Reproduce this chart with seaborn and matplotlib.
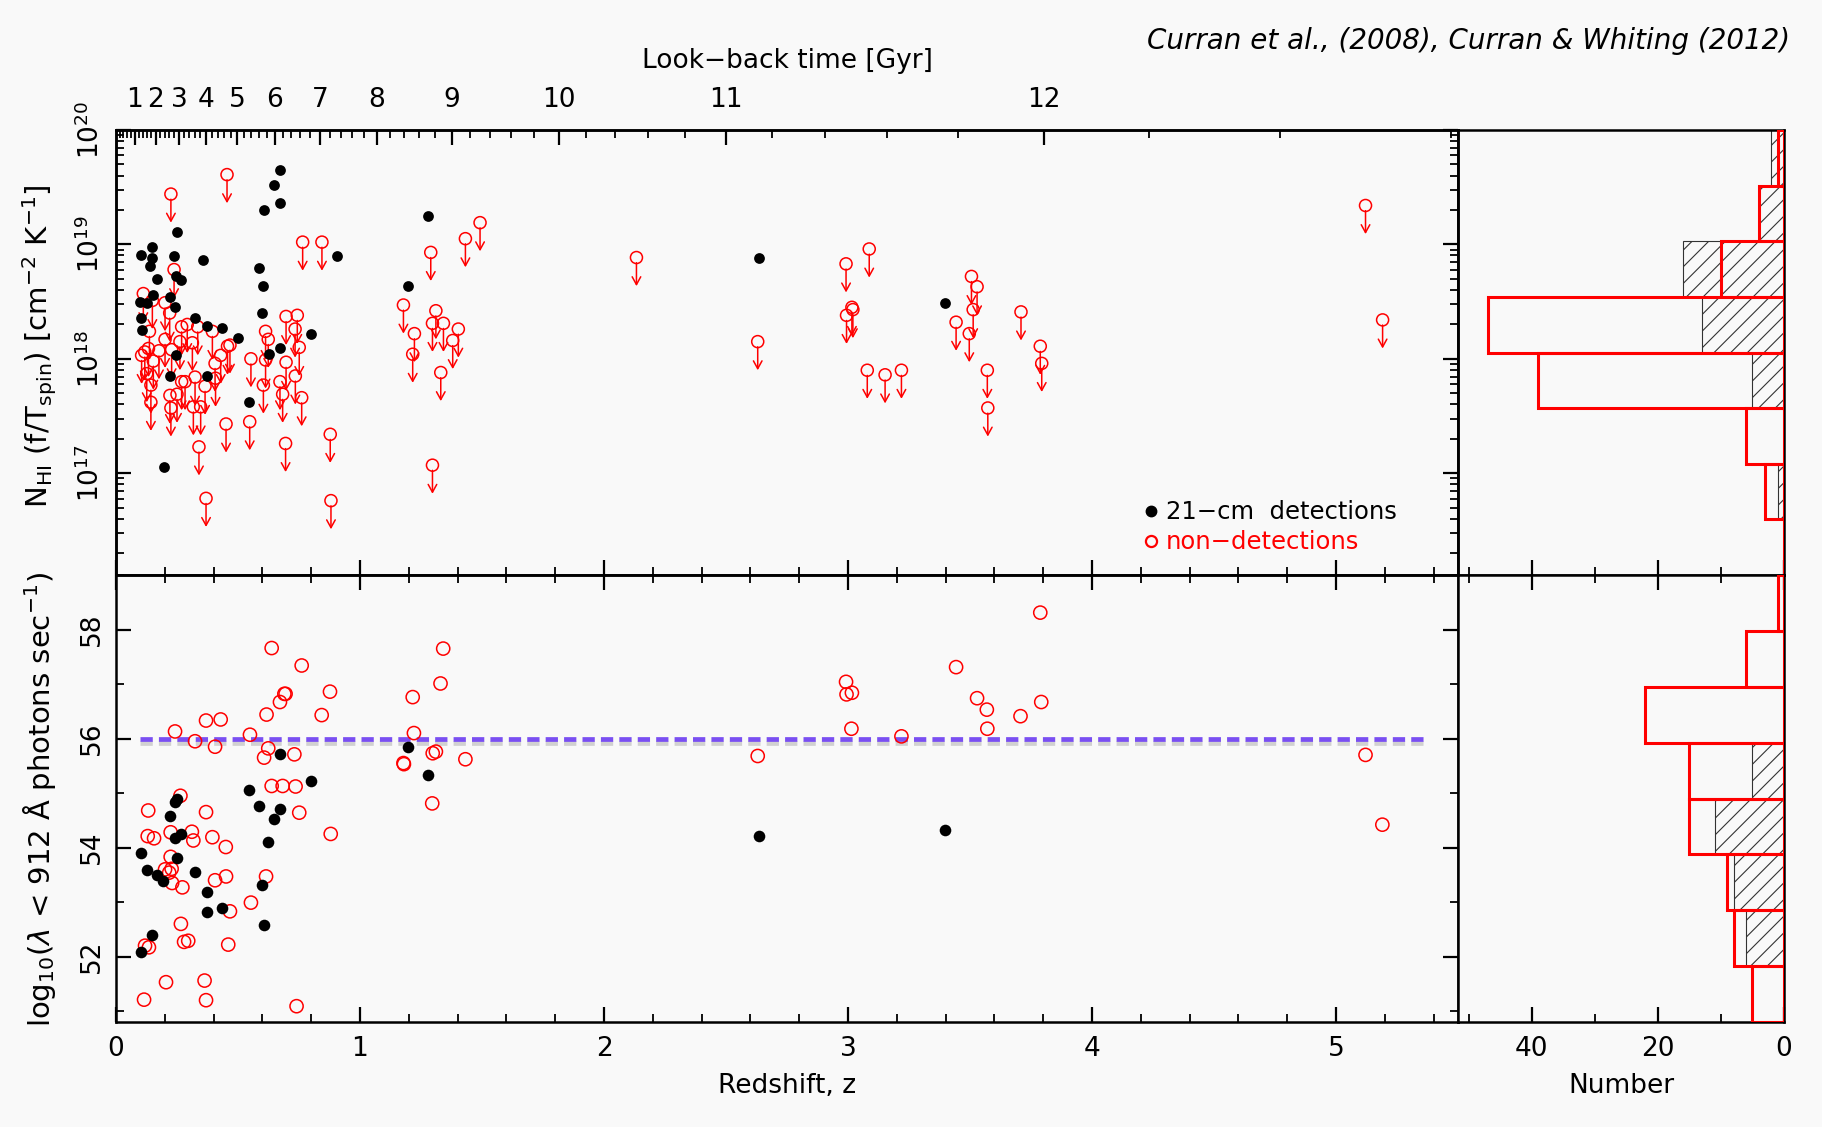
import numpy as np
import pandas as pd
import matplotlib
matplotlib.use("Agg")
import matplotlib.pyplot as plt
import matplotlib.ticker as mticker
import matplotlib.patheffects as pe
from matplotlib.lines import Line2D
import seaborn as sns

# ---------------- data ----------------
# Upper panel: 21-cm detections, redshift and log10 N_HI (f/Tspin)
det_top_z = [0.102, 0.149, 0.149, 0.139, 0.167, 0.153, 0.100, 0.126, 0.104, 0.108,
             0.250, 0.238, 0.246, 0.266, 0.221, 0.240, 0.246, 0.221, 0.197, 0.358,
             0.324, 0.373, 0.434, 0.372, 0.500, 0.546, 0.587, 0.602, 0.600, 0.608,
             0.648, 0.673, 0.671, 0.627, 0.672, 0.799, 0.907, 1.195, 1.279, 2.636, 3.397]
det_top_logN = [18.91, 18.98, 18.885, 18.81, 18.70, 18.56, 18.50, 18.49, 18.36, 18.25,
                19.11, 18.90, 18.72, 18.69, 18.54, 18.45, 18.03, 17.85, 17.05, 18.86,
                18.36, 18.29, 18.27, 17.85, 18.18, 17.62, 18.79, 18.64, 18.40, 19.30,
                19.52, 19.65, 19.36, 18.04, 18.09, 18.22, 18.90, 18.64, 19.25, 18.885, 18.49]

# Upper panel: non-detections (upper limits)
lim_top_z = [0.225, 0.455, 0.112, 0.201, 0.238, 0.149, 0.220, 0.137, 0.765, 0.844,
             1.432, 1.492, 1.290, 1.178, 1.223, 1.216, 1.311, 1.297, 1.342, 1.403,
             1.380, 1.331, 1.297, 0.697, 0.743, 0.734, 0.751, 0.697, 0.735, 0.761,
             0.683, 0.672, 0.613, 0.624, 0.613, 0.604, 0.553, 0.548, 0.695, 0.878,
             0.881, 0.451, 0.340, 0.369, 0.467, 0.457, 0.429, 0.406, 0.395, 0.335,
             0.292, 0.269, 0.313, 0.262, 0.228, 0.201, 0.176, 0.133, 0.105, 0.118,
             0.153, 0.126, 0.143, 0.143, 0.221, 0.225, 0.250, 0.269, 0.283, 0.324,
             0.317, 0.347, 0.365, 0.408,
             2.133, 2.630, 2.992, 3.087, 2.994, 3.016, 3.020, 3.079, 3.152, 3.219,
             3.506, 3.529, 3.513, 3.443, 3.497, 3.709, 3.788, 3.794, 3.571, 3.573,
             5.121, 5.191]
lim_top_logN = [19.44, 19.61, 18.57, 18.49, 18.78, 18.51, 18.40, 18.24, 19.02, 19.02,
                19.05, 19.19, 18.93, 18.47, 18.22, 18.04, 18.42, 18.31, 18.31, 18.26,
                18.16, 17.88, 17.07, 18.37, 18.38, 18.26, 18.10, 17.97, 17.85, 17.66,
                17.69, 17.80, 18.24, 18.17, 17.99, 17.77, 18.00, 17.45, 17.26, 17.34,
                16.76, 17.43, 17.23, 16.78, 18.12, 18.11, 18.03, 17.96, 18.24, 18.28,
                18.30, 18.28, 18.14, 18.15, 18.08, 18.17, 18.07, 18.09, 18.03, 18.06,
                17.98, 17.87, 17.77, 17.62, 17.68, 17.57, 17.69, 17.80, 17.80, 17.84,
                17.58, 17.58, 17.76, 17.83,
                18.885, 18.15, 18.83, 18.96, 18.38, 18.45, 18.43, 17.90, 17.86, 17.90,
                18.72, 18.63, 18.43, 18.32, 18.22, 18.41, 18.11, 17.96, 17.90, 17.57,
                19.34, 18.34]

# Lower panel: ionising photon rate log10(Q)
det_bot_z = [0.102, 0.126, 0.167, 0.194, 0.149, 0.104, 0.221, 0.242, 0.249, 0.266,
             0.242, 0.249, 0.324, 0.372, 0.372, 0.434, 0.546, 0.587, 0.673, 0.648,
             0.624, 0.600, 0.608, 0.672, 0.799, 1.195, 1.279, 2.636, 3.397]
det_bot_Q = [53.90, 53.58, 53.49, 53.39, 52.39, 52.08, 54.57, 54.83, 54.90, 54.25,
             54.17, 53.81, 53.56, 53.19, 52.81, 52.90, 55.05, 54.77, 54.71, 54.53,
             54.10, 53.32, 52.58, 55.72, 55.22, 55.85, 55.33, 54.21, 54.33]

non_bot_z = [0.638, 0.761, 0.695, 0.690, 0.672, 0.877, 0.617, 0.843, 0.369, 0.429,
             0.242, 0.549, 0.324, 0.406, 0.624, 0.607, 0.731, 0.638, 0.683, 0.736,
             0.264, 0.132, 0.369, 0.751, 0.880, 0.130, 0.156, 0.224, 0.311, 0.317,
             0.395, 0.450, 0.224, 0.201, 0.228, 0.218, 0.230, 0.272, 0.406, 0.451,
             0.615, 0.266, 0.467, 0.553, 0.279, 0.296, 0.460, 0.119, 0.135, 0.205,
             0.363, 0.115, 0.369, 0.740, 1.216, 1.341, 1.330, 1.221, 1.298, 1.311,
             1.178, 1.180, 1.432, 1.296,
             2.630, 2.992, 2.994, 3.016, 3.014, 3.219, 3.443, 3.529, 3.569, 3.571,
             3.707, 3.792, 3.788, 5.121, 5.190]
non_bot_Q = [57.66, 57.34, 56.82, 56.82, 56.67, 56.86, 56.44, 56.43, 56.33, 56.35,
             56.13, 56.07, 55.95, 55.85, 55.82, 55.65, 55.71, 55.13, 55.13, 55.12,
             54.95, 54.68, 54.65, 54.64, 54.25, 54.21, 54.17, 54.28, 54.29, 54.13,
             54.19, 54.01, 53.83, 53.60, 53.61, 53.54, 53.35, 53.27, 53.40, 53.47,
             53.47, 52.60, 52.83, 52.99, 52.27, 52.29, 52.22, 52.20, 52.17, 51.53,
             51.56, 51.21, 51.20, 51.09, 56.76, 57.65, 57.01, 56.10, 55.73, 55.76,
             55.55, 55.53, 55.62, 54.81,
             55.68, 57.04, 56.81, 56.84, 56.18, 56.04, 57.31, 56.74, 56.53, 56.18,
             56.41, 56.67, 58.31, 55.70, 54.42]

# reference level Q = 10^56 and its redshift span
q_level = 56.0
q_line_z = [0.10, 5.36]

# Histograms (counts per bin)
htop_edges = [16.0, 16.5, 17.0, 17.5, 18.0, 18.5, 19.0, 19.5, 20.0]
htop_det = [0, 1, 0, 5, 13, 16, 4, 2]
htop_non = [0, 3, 6, 39, 47, 10, 4, 1]
hbot_edges = [51, 52, 53, 54, 55, 56, 57, 58, 59]
hbot_det = [0, 6, 8, 11, 5, 0, 0, 0]
hbot_non = [5, 8, 9, 15, 15, 22, 6, 1]

# Look-back time axis (Gyr) and cosmology used for it
lb_major = list(range(1, 13))
H0, Om, OL = 71.0, 0.27, 0.73

# ---------------- style ----------------
BG = "#f9f9f9"
sns.set_theme(style="ticks")
plt.rcParams.update({
    "figure.facecolor": BG, "axes.facecolor": BG, "savefig.facecolor": BG,
    "axes.edgecolor": "black", "axes.linewidth": 1.8,
    "text.color": "black", "axes.labelcolor": "black",
    "xtick.labelcolor": "black", "ytick.labelcolor": "black",
    "xtick.direction": "in", "ytick.direction": "in",
    "xtick.major.size": 11, "ytick.major.size": 11,
    "xtick.minor.size": 6, "ytick.minor.size": 6,
    "xtick.major.width": 1.6, "ytick.major.width": 1.6,
    "xtick.minor.width": 1.3, "ytick.minor.width": 1.3,
    "xtick.color": "black", "ytick.color": "black",
    "xtick.labelsize": 19, "ytick.labelsize": 19,
    "hatch.linewidth": 0.8,
    "axes.grid": False,
})
plt.rcParams["font.family"] = ["DejaVu Sans"]

W, H = 1822, 1127
fig = plt.figure(figsize=(W / 100, H / 100), dpi=100)
L, R, HR = 116 / W, 1458 / W, 1784 / W
T, M, B = 1 - 130 / H, 1 - 575 / H, 1 - 1022 / H
ax_top = fig.add_axes([L, M, R - L, T - M])
ax_bot = fig.add_axes([L, B, R - L, M - B])
h_top = fig.add_axes([R, M, HR - R, T - M])
h_bot = fig.add_axes([R, B, HR - R, M - B])

# ---------------- top scatter ----------------
ax_top.set_yscale("log")
df_det_top = pd.DataFrame({"z": det_top_z, "N": 10 ** np.array(det_top_logN)})
df_lim_top = pd.DataFrame({"z": lim_top_z, "N": 10 ** np.array(lim_top_logN)})

for z, lg in zip(lim_top_z, lim_top_logN):
    ax_top.annotate("", xy=(z, 10 ** (lg - 0.25)), xytext=(z, 10 ** (lg - 0.045)),
                    arrowprops=dict(arrowstyle="->,head_length=0.4,head_width=0.22",
                                    color="red", lw=1.1, shrinkA=0, shrinkB=0,
                                    mutation_scale=14), zorder=2)
sns.scatterplot(data=df_lim_top, x="z", y="N", ax=ax_top, marker="o", s=75,
                facecolors="none", edgecolors="red", linewidth=1.1, legend=False, zorder=3)
sns.scatterplot(data=df_det_top, x="z", y="N", ax=ax_top, color="black", s=60,
                edgecolor="black", linewidth=0, legend=False, zorder=4)

ax_top.set_xlim(0, 5.5)
ax_top.set_ylim(10 ** 16.11, 1e20)
ax_top.yaxis.set_major_locator(mticker.LogLocator(base=10, numticks=10))
ax_top.yaxis.set_minor_locator(mticker.LogLocator(base=10, subs=np.arange(2, 10), numticks=20))
ax_top.yaxis.set_minor_formatter(mticker.NullFormatter())
ax_top.xaxis.set_major_locator(mticker.MultipleLocator(1))
ax_top.xaxis.set_minor_locator(mticker.MultipleLocator(0.2))
ax_top.tick_params(axis="x", which="both", bottom=True, top=False, labelbottom=False)
ax_top.tick_params(axis="y", which="both", left=True, right=True, labelrotation=90, pad=8)
for lab in ax_top.get_yticklabels():
    lab.set_va("center")
ax_top.set_xlabel("")
ax_top.set_ylabel("")

# legend
handles = [Line2D([], [], marker="o", ls="", color="black", ms=7.5),
           Line2D([], [], marker="o", ls="", mfc="none", mec="red", mew=1.6, ms=8)]
leg = ax_top.legend(handles, ["21\u2212cm  detections", "non\u2212detections"],
                    loc="lower left", bbox_to_anchor=(0.755, 0.025), frameon=False,
                    fontsize=17.5, handletextpad=0.1, handlelength=1.0, labelspacing=0.25,
                    borderaxespad=0)
leg.get_texts()[0].set_color("black")
leg.get_texts()[1].set_color("red")

# look-back time axis
zgrid = np.linspace(0, 10, 20001)
integ = 1.0 / ((1 + zgrid) * np.sqrt(Om * (1 + zgrid) ** 3 + OL))
tl = 977.8 / H0 * np.concatenate([[0], np.cumsum(0.5 * (integ[1:] + integ[:-1]) * np.diff(zgrid))])
lb_minor = [v for v in np.round(np.arange(0.2, 12.61, 0.2), 1) if abs(v - round(v)) > 1e-6]
z_major = np.interp(lb_major, tl, zgrid)
z_minor = np.interp(lb_minor, tl, zgrid)
ax_lb = ax_top.twiny()
ax_lb.set_xlim(0, 5.5)
ax_lb.set_xticks(z_major, [str(v) for v in lb_major])
ax_lb.set_xticks(z_minor, minor=True)
ax_lb.tick_params(axis="x", which="both", top=True, bottom=False, direction="in", pad=12)
ax_lb.set_xlabel("Look\u2212back time [Gyr]", fontsize=19, labelpad=14)

# ---------------- bottom scatter ----------------
df_det_bot = pd.DataFrame({"z": det_bot_z, "Q": det_bot_Q})
df_non_bot = pd.DataFrame({"z": non_bot_z, "Q": non_bot_Q})
ax_bot.plot(q_line_z, [q_level, q_level], color="#7a4ff2", lw=3.4,
            linestyle=(0, (2.6, 1.3)), zorder=2,
            path_effects=[pe.SimpleLineShadow(offset=(0, -3), shadow_color="#aaaaaa", alpha=0.5),
                          pe.Normal()])
sns.scatterplot(data=df_non_bot, x="z", y="Q", ax=ax_bot, marker="o", s=90,
                facecolors="none", edgecolors="red", linewidth=1.1, legend=False, zorder=3)
sns.scatterplot(data=df_det_bot, x="z", y="Q", ax=ax_bot, color="black", s=70,
                edgecolor="black", linewidth=0, legend=False, zorder=4)
ax_bot.set_xlim(0, 5.5)
ax_bot.set_ylim(50.8, 59.0)
ax_bot.xaxis.set_major_locator(mticker.MultipleLocator(1))
ax_bot.xaxis.set_minor_locator(mticker.MultipleLocator(0.2))
ax_bot.yaxis.set_major_locator(mticker.MultipleLocator(2))
ax_bot.yaxis.set_minor_locator(mticker.MultipleLocator(1))
ax_bot.tick_params(axis="x", which="both", bottom=True, top=True, pad=10)
ax_bot.tick_params(axis="y", which="both", left=True, right=True, labelrotation=90, pad=8)
for lab in ax_bot.get_yticklabels():
    lab.set_va("center")
ax_bot.set_xlabel("Redshift, z", fontsize=19, labelpad=8)
ax_bot.set_ylabel("")

# ---------------- histograms ----------------
def draw_hist(ax, edges, det, non):
    edges = np.asarray(edges, float)
    heights = np.diff(edges)
    ax.barh(edges[:-1], det, height=heights, align="edge", fill=False,
            edgecolor="#333333", hatch="//", linewidth=0.8, zorder=2)
    ax.barh(edges[:-1], non, height=heights, align="edge", fill=False,
            edgecolor="red", linewidth=2.2, zorder=3)
    ax.set_xlim(51.7, 0)
    ax.set_ylim(edges[0], edges[-1])
    ax.xaxis.set_major_locator(mticker.MultipleLocator(20))
    ax.xaxis.set_minor_locator(mticker.MultipleLocator(10))
    ax.tick_params(axis="y", which="both", left=False, right=False, labelleft=False)
    ax.set_ylabel("")

draw_hist(h_top, htop_edges, htop_det, htop_non)
h_top.tick_params(axis="x", which="both", bottom=True, top=False, labelbottom=False)
h_top.set_xlabel("")
draw_hist(h_bot, hbot_edges, hbot_det, hbot_non)
h_bot.tick_params(axis="x", which="both", bottom=True, top=True, pad=10)
h_bot.set_xlabel("Number", fontsize=19, labelpad=8)

# ---------------- labels ----------------
fig.text(40 / W, 1 - 800 / H, r"log$_{10}$($\lambda$ < 912 Å photons sec$^{-1}$)",
         rotation=90, ha="center", va="center", fontsize=21)
fig.text(40 / W, 1 - 346 / H, r"N$_{\rm HI}$ (f/T$_{\rm spin}$) [cm$^{-2}$ K$^{-1}$]",
         rotation=90, ha="center", va="center", fontsize=21)
fig.text(1790 / W, 1 - 41 / H, "Curran et al., (2008), Curran & Whiting (2012)",
         ha="right", va="center", fontsize=20, style="italic")

fig.savefig("out.png", dpi=100, facecolor=BG)
